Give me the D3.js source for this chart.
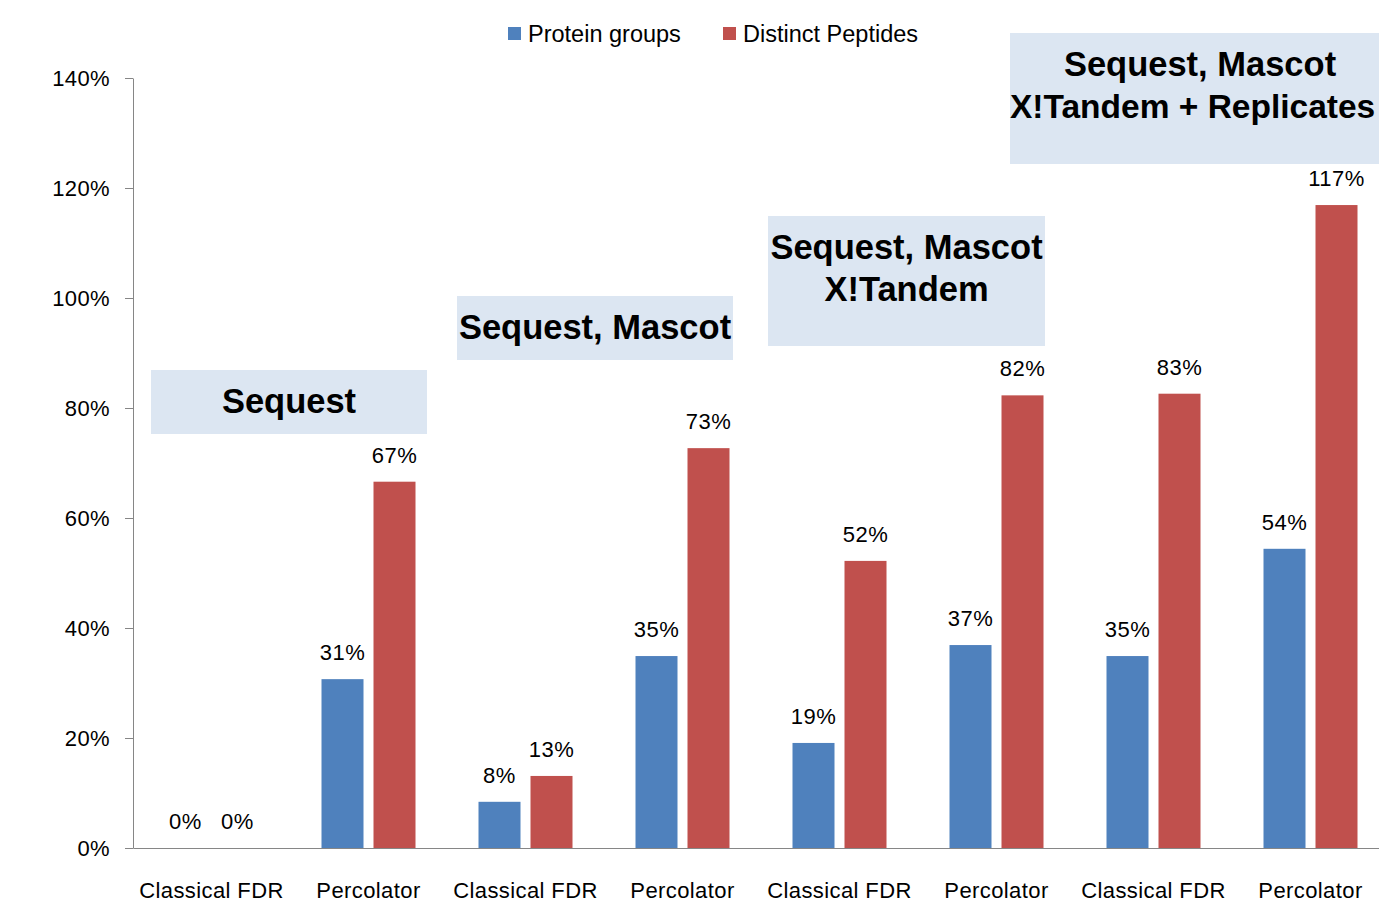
<!DOCTYPE html>
<html><head><meta charset="utf-8">
<script src="https://cdn.jsdelivr.net/npm/d3@7"></script>
<style>body{margin:0;background:#fff;overflow:hidden}</style>
</head><body>
<svg id="c" width="1379" height="905"></svg>
<script>
const categories = ["Classical FDR","Percolator","Classical FDR","Percolator","Classical FDR","Percolator","Classical FDR","Percolator"];
const seriesNames = ["Protein groups","Distinct Peptides"];
const proteinGroups = [0, 0.307, 0.084, 0.349, 0.191, 0.369, 0.349, 0.544];
const distinctPeptides = [0, 0.666, 0.131, 0.727, 0.522, 0.823, 0.826, 1.169];
const yTicks = [0, 0.2, 0.4, 0.6, 0.8, 1.0, 1.2, 1.4];
const annotationLines = [
  ["Sequest"],
  ["Sequest, Mascot"],
  ["Sequest, Mascot","X!Tandem"],
  ["Sequest, Mascot","X!Tandem + Replicates"]
];
const colors = ["#4f81bd","#c0504d"];

const svg = d3.select("#c");
const pLeft = 133, pRight = 133 + 8*157, pTop = 78, pBottom = 848;
const x = d3.scaleBand().domain(d3.range(categories.length)).range([pLeft, pRight]).paddingInner(0).paddingOuter(0);
const xs = d3.scaleBand().domain([0,1]).range([31.5, 157-31.5]).paddingInner(10/52);
const y = d3.scaleLinear().domain([0, 1.4]).range([pBottom, pTop]);
const fmt = d3.format(".0%");
const labelFont = "'Liberation Sans', Arial, sans-serif";

// y axis
const yAxis = d3.axisLeft(y).tickValues(yTicks).tickFormat(fmt).tickSize(8).tickSizeOuter(0);
const ga = svg.append("g").attr("transform",`translate(${pLeft},0)`).call(yAxis);
ga.select(".domain").attr("stroke","#868686");
ga.selectAll(".tick line").attr("stroke","#868686");
ga.selectAll(".tick text").attr("x",-23).attr("font-family",labelFont).attr("font-size",22).attr("letter-spacing",0.4).attr("fill","#000");

// x axis
const xAxis = d3.axisBottom(x).tickFormat(i => categories[i]).tickSize(0).tickSizeOuter(0);
const gx = svg.append("g").attr("transform",`translate(0,${pBottom})`).call(xAxis);
gx.select(".domain").attr("stroke","#868686");
gx.selectAll(".tick text").attr("dy",0).attr("y",50).attr("font-family",labelFont).attr("font-size",22).attr("letter-spacing",0.4).attr("fill","#000");

// bars
const series = [proteinGroups, distinctPeptides];
series.forEach((vals, s) => {
  const g = svg.append("g");
  g.selectAll("rect").data(vals).join("rect")
    .attr("x",(d,i)=>x(i)+xs(s)).attr("width",xs.bandwidth())
    .attr("y",d=>y(d)).attr("height",d=>pBottom-y(d))
    .attr("fill",colors[s]);
  g.selectAll("text").data(vals).join("text")
    .attr("x",(d,i)=>x(i)+xs(s)+xs.bandwidth()/2)
    .attr("y",d=>y(d)-19)
    .attr("text-anchor","middle").attr("font-family",labelFont).attr("font-size",22).attr("letter-spacing",0.5).attr("fill","#000")
    .text(d=>fmt(d));
});

// annotation boxes
const boxGeom = [
  {x0:151, x1:427, y0:370, y1:434},
  {x0:457, x1:733, y0:296, y1:360},
  {x0:768, x1:1045, y0:216, y1:346},
  {x0:1010, x1:1390, y0:33, y1:164}
];
annotationLines.forEach((lines, k) => {
  const b = boxGeom[k];
  svg.append("rect").attr("x",b.x0).attr("y",b.y0).attr("width",b.x1-b.x0).attr("height",b.y1-b.y0).attr("fill","#dce6f2");
  const cx = (b.x0+b.x1)/2;
  lines.forEach((t, j) => {
    const last = (k===3 && j===1);
    svg.append("text")
      .attr("x", k===3 ? (last ? 1010 : 1200) : cx)
      .attr("y", b.y0 + 43 + j*42)
      .attr("text-anchor", last ? "start" : "middle")
      .attr("font-family",labelFont).attr("font-weight","bold")
      .attr("font-size", last ? 33.5 : 34.5).attr("fill","#000").text(t);
  });
});

// legend
const legX = [508, 723];
seriesNames.forEach((n, s) => {
  svg.append("rect").attr("x",legX[s]).attr("y",27).attr("width",13).attr("height",13).attr("fill",colors[s]);
  svg.append("text").attr("x",legX[s]+20).attr("y",42).attr("font-family",labelFont).attr("font-size",23.5).attr("fill","#000").text(n);
});
</script>
</body></html>
